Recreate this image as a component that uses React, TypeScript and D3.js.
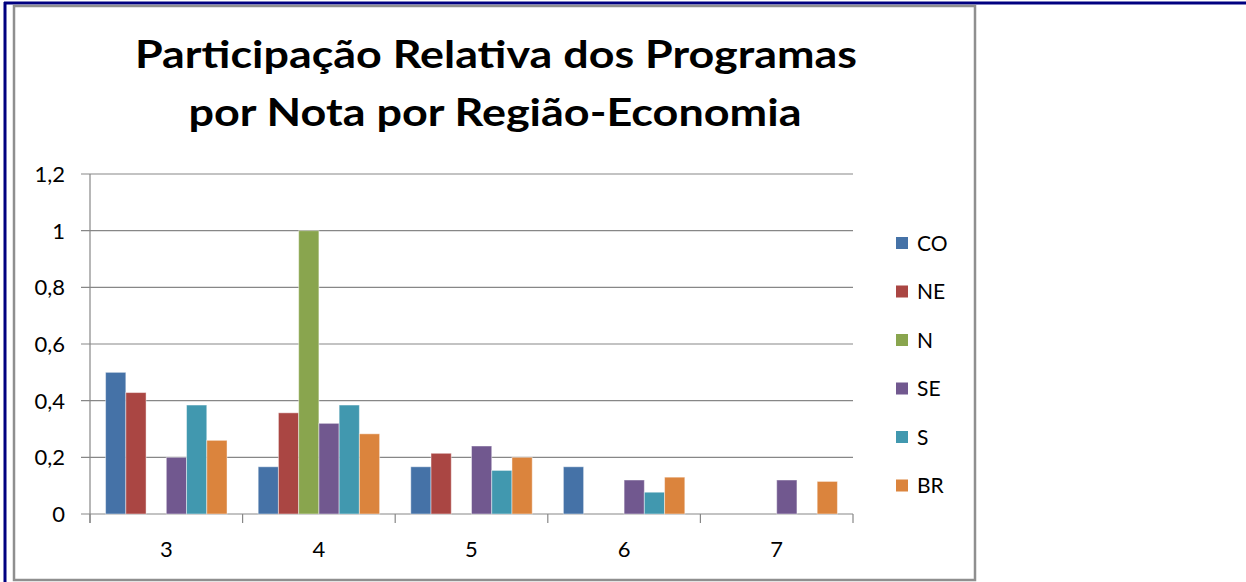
import React from "react";
import * as d3 from "d3";

// notas (categorias do eixo x)
const categories = ["3", "4", "5", "6", "7"];
const seriesNames = ["CO", "NE", "N", "SE", "S", "BR"];

// participação relativa por região
const CO = [0.5, 0.1667, 0.1667, 0.1667, 0];
const NE = [0.4286, 0.3571, 0.2143, 0, 0];
const N = [0, 1, 0, 0, 0];
const SE = [0.2, 0.32, 0.24, 0.12, 0.12];
const S = [0.3846, 0.3846, 0.1538, 0.0769, 0];
const BR = [0.26, 0.283, 0.2, 0.13, 0.115];

const yTicks = [0, 0.2, 0.4, 0.6, 0.8, 1, 1.2];

const colors = ["#4572A7", "#AA4643", "#89A54E", "#71588F", "#4198AF", "#DB843D"];

const W = 1246, H = 582;
const FONT = "Lato, 'Open Sans', sans-serif";

export default function App() {
  const series = [CO, NE, N, SE, S, BR];

  // plot area
  const left = 90, right = 853, top = 174, bottom = 514;

  const x = d3.scaleBand<string>().domain(categories).range([left, right]).padding(0);
  const xInner = d3.scaleBand<string>().domain(seriesNames).range([0, x.bandwidth()])
    .paddingInner(0).paddingOuter(0.77);
  const y = d3.scaleLinear().domain([0, 1.2]).range([bottom, top]);

  const fmt = (v: number) => d3.format("~g")(v).replace(".", ",");

  const catBounds = categories.map((c) => x(c) as number).concat([right]);

  return (
    <div style={{ position: "absolute", left: 0, top: 0 }}>
      <svg width={W} height={H} style={{ display: "block", background: "#fff" }}>
        {/* navy page frame */}
        <line x1={4} y1={3} x2={W} y2={3} stroke="#000080" strokeWidth={3} />
        <line x1={5} y1={2} x2={5} y2={H} stroke="#000080" strokeWidth={3} />

        {/* chart border */}
        <rect x={14} y={6} width={961} height={574} fill="#fff" stroke="#8f8f8f" strokeWidth={2.5} />

        {/* title */}
        <text x={496} y={68} textAnchor="middle" fontFamily={FONT} fontWeight={700} fontSize={38}
          textLength={722} lengthAdjust="spacingAndGlyphs" fill="#000">
          Participação Relativa dos Programas
        </text>
        <text x={495} y={126} textAnchor="middle" fontFamily={FONT} fontWeight={700} fontSize={38}
          textLength={613} lengthAdjust="spacingAndGlyphs" fill="#000">
          por Nota por Região-Economia
        </text>

        {/* gridlines + y ticks */}
        {yTicks.map((t) => (
          <g key={t}>
            <line x1={left - 9} x2={right} y1={y(t)} y2={y(t)} stroke="#878787" strokeWidth={1.2} />
            <text x={65} y={y(t)} dy="0.36em" textAnchor="end" fontFamily={FONT} fontSize={22} fill="#000">
              {fmt(t)}
            </text>
          </g>
        ))}

        {/* y axis */}
        <line x1={left} x2={left} y1={top} y2={bottom + 9} stroke="#878787" strokeWidth={1.2} />
        {/* x tick marks */}
        {catBounds.map((b, i) => (
          <line key={i} x1={b} x2={b} y1={bottom} y2={bottom + 9} stroke="#878787" strokeWidth={1.2} />
        ))}

        {/* bars */}
        {categories.map((c, ci) => (
          <g key={c} transform={`translate(${x(c)},0)`}>
            {series.map((vals, si) =>
              vals[ci] > 0 ? (
                <rect key={si} x={xInner(seriesNames[si])} y={y(vals[ci])}
                  width={xInner.bandwidth()} height={bottom - y(vals[ci])}
                  fill={colors[si]} stroke="#ffffff" strokeOpacity={0.45} strokeWidth={1} />
              ) : null
            )}
          </g>
        ))}

        {/* category labels */}
        {categories.map((c) => (
          <text key={c} x={(x(c) as number) + x.bandwidth() / 2} y={557} textAnchor="middle"
            fontFamily={FONT} fontSize={22} fill="#000">
            {c}
          </text>
        ))}

        {/* legend */}
        {seriesNames.map((s, i) => {
          const cy = 243 + i * 48.5;
          return (
            <g key={s}>
              <rect x={896} y={cy - 6} width={12} height={12} fill={colors[i]} />
              <text x={917} y={cy} dy="0.36em" fontFamily={FONT} fontSize={21} fill="#000">{s}</text>
            </g>
          );
        })}
      </svg>
    </div>
  );
}
